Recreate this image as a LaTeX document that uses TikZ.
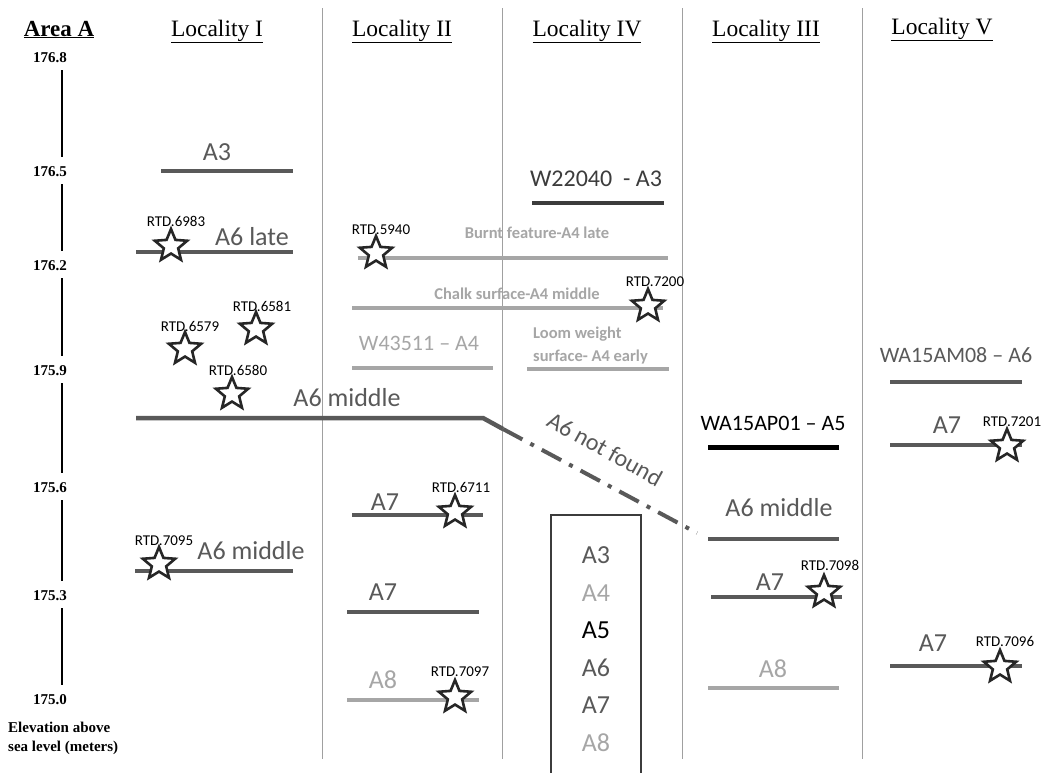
\documentclass[tikz,border=0pt]{standalone}
\usepackage{fontspec}
\setmainfont{Carlito}
\newfontfamily\tnr{Liberation Serif}
\usetikzlibrary{shapes.geometric}
\definecolor{dg}{HTML}{595959}
\definecolor{lg}{HTML}{A6A6A6}
\definecolor{sepc}{HTML}{A0A0A0}
\definecolor{sc}{HTML}{262626}
\begin{document}
\begin{tikzpicture}[x=1pt,y=-1pt,
  lay/.style={line width=4.5pt, draw=dg},
  layl/.style={line width=4.5pt, draw=lg},
  layb/.style={line width=5pt, draw=black},
  big/.style={font=\fontsize{26}{30}\selectfont, text=dg, anchor=base, inner sep=0},
  bigl/.style={big, text=lg},
  mid/.style={font=\fontsize{22}{26}\selectfont, text=dg, anchor=base, inner sep=0},
  sml/.style={font=\bfseries\fontsize{16.5}{20}\selectfont, text=lg, anchor=base, inner sep=0},
  rtd/.style={font=\fontsize{15}{17}\selectfont, text=black, anchor=base, inner sep=0},
  starm/.style={star, star points=5, star point ratio=2.25, minimum size=34pt, inner sep=0, draw=sc, line width=2.6pt, fill=white},
  hdr/.style={font=\tnr\fontsize{23.5}{27}\selectfont, anchor=base, inner sep=0},
  tick/.style={font=\tnr\bfseries\fontsize{15}{17}\selectfont, inner sep=0},
  sep/.style={draw=sepc, line width=1pt},
]
\useasboundingbox (0,0) rectangle (1043,772);
\fill[white] (0,0) rectangle (1043,772);

% separators
\foreach \x/\n in {322/a,502/b,682/c,862/d}{
  \coordinate (s\n t) at (\x,8);
  \coordinate (s\n b) at (\x,759);
  \draw[sep] (s\n t) -- (s\n b);
}

% headers
\node[hdr,font=\tnr\bfseries\fontsize{23}{27}\selectfont] (hA) at (59,36) {\underline{Area A}};
\node[hdr] (h1) at (217,36) {\underline{Locality I}};
\node[hdr] (h2) at (402,36) {\underline{Locality II}};
\node[hdr] (h4) at (587,36) {\underline{Locality IV}};
\node[hdr] (h3) at (766,36) {\underline{Locality III}};
\node[hdr] (h5) at (942,34) {\underline{Locality V}};

% axis
\coordinate (ax) at (62,0);
\node[tick] (t1) at (50,58) {176.8};
\node[tick] (t2) at (50,172) {176.5};
\node[tick] (t3) at (50,266) {176.2};
\node[tick] (t4) at (50,371) {175.9};
\node[tick] (t5) at (50,488) {175.6};
\node[tick] (t6) at (50,596) {175.3};
\node[tick] (t7) at (50,700) {175.0};
\foreach \a/\b in {t1/t2,t2/t3,t3/t4,t4/t5,t5/t6,t6/t7}{
  \draw[line width=1.5pt, shorten <=7pt, shorten >=10pt] (\a.south -| ax) -- (\b.north -| ax);
}
\node[font=\tnr\bfseries\fontsize{15}{19}\selectfont, anchor=north west, align=left, inner sep=0] (elev) at (8,722) {Elevation above\\sea level (meters)};

% ---------- Locality I ----------
\draw[lay] (161,171) -- (293,171);
\node[big] (i1) at (217,160) {A3};
\draw[lay] (136,252) -- (293,252);
\node[big] (i2) at (252,245) {A6 late};
\node[starm] (st6983) at (171,246) {};
\node[rtd] (r6983) at (176,226) {RTD.6983};
\node[starm] (st6581) at (256,329) {};
\node[rtd] (r6581) at (262,311) {RTD.6581};
\node[starm] (st6579) at (185,349) {};
\node[rtd] (r6579) at (190,331) {RTD.6579};
\node[starm] (st6580) at (232,394) {};
\node[rtd] (r6580) at (238,375) {RTD.6580};
\coordinate (m0) at (136,418);
\coordinate (m1) at (483,418);
\coordinate (m2) at (503,429);
\coordinate (m3) at (697,533);
\draw[lay] (m0) -- (m1) -- (m2);
\draw[line width=4pt, draw=dg, dash pattern=on 22pt off 9pt on 4pt off 9pt] (m2) -- (m3);
\node[big] (i3) at (347,406) {A6 middle};
\node[font=\fontsize{24}{28}\selectfont, text=dg, rotate=-29, inner sep=0] (nf) at (605,449) {A6 not found};
\draw[lay] (135,571) -- (293,571);
\node[big] (i4) at (251,559) {A6 middle};
\node[starm] (st7095) at (159,564) {};
\node[rtd] (r7095) at (164,545) {RTD.7095};

% ---------- Locality II ----------
\draw[layl] (358,258) -- (668,258);
\node[sml] (b1) at (537,238) {Burnt feature-A4 late};
\node[starm] (st5940) at (376,253) {};
\node[rtd] (r5940) at (381,234) {RTD.5940};
\draw[layl] (352,308) -- (663,308);
\node[sml] (c1) at (517,299) {Chalk surface-A4 middle};
\node[starm] (st7200) at (648,306) {};
\node[rtd] (r7200) at (655,286) {RTD.7200};
\draw[layl] (352,368) -- (493,368);
\node[mid, text=lg] (w4) at (419,350) {W43511 -- A4};
\draw[lay] (352,515) -- (483,515);
\node[big] (ii1) at (385,510) {A7};
\node[starm] (st6711) at (455,512) {};
\node[rtd] (r6711) at (461,492) {RTD.6711};
\draw[lay] (347,612) -- (479,612);
\node[big] (ii2) at (383,600) {A7};
\draw[layl] (347,700) -- (479,700);
\node[bigl] (ii3) at (383,688) {A8};
\node[starm] (st7097) at (455,697) {};
\node[rtd] (r7097) at (460,676) {RTD.7097};

% ---------- Locality IV ----------
\draw[line width=4.5pt, draw=sc!90] (532,203) -- (664,203);
\node[font=\fontsize{24}{28}\selectfont, text=sc!90, anchor=base, inner sep=0] (w2) at (596,186) {W22040\ \ - A3};
\draw[layl] (527,369) -- (669,369);
\node[sml, anchor=base west] (l1) at (533,338) {Loom weight};
\node[sml, anchor=base west] (l2) at (533,361) {surface- A4 early};
\draw[line width=2.5pt, draw=sc!90] (551,780) -- (551,515) -- (641,515) -- (641,780);
\node[big] (k3) at (596,563) {A3};
\node[bigl] (k4) at (596,601) {A4};
\node[big, text=black] (k5) at (596,638) {A5};
\node[big] (k6) at (596,676) {A6};
\node[big] (k7) at (596,713) {A7};
\node[bigl] (k8) at (596,751) {A8};

% ---------- Locality III ----------
\draw[layb] (708,447) -- (839,447);
\node[mid, text=black] (wa5) at (773,430) {WA15AP01 -- A5};
\draw[lay] (708,539) -- (839,539);
\node[big] (iii1) at (779,516) {A6 middle};
\draw[lay] (711,597) -- (842,597);
\node[big] (iii2) at (770,590) {A7};
\node[starm] (st7098) at (824,592) {};
\node[rtd] (r7098) at (830,570) {RTD.7098};
\draw[layl] (708,688) -- (839,688);
\node[bigl] (iii3) at (773,677) {A8};

% ---------- Locality V ----------
\draw[lay] (890,382) -- (1022,382);
\node[mid] (wa6) at (956,362) {WA15AM08 -- A6};
\draw[lay] (890,445) -- (1022,445);
\node[big] (v1) at (947,433) {A7};
\node[starm] (st7201) at (1007,446) {};
\node[rtd] (r7201) at (1012,426) {RTD.7201};
\draw[lay] (890,666) -- (1022,666);
\node[big] (v2) at (933,651) {A7};
\node[starm] (st7096) at (1000,667) {};
\node[rtd] (r7096) at (1005,646) {RTD.7096};
\end{tikzpicture}
\end{document}
